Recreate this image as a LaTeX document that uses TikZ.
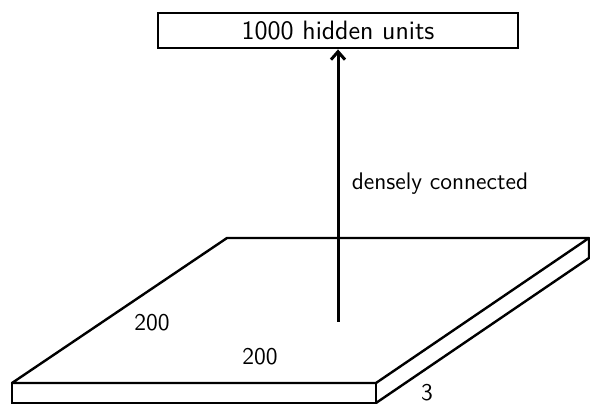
\documentclass[tikz,border=0pt]{standalone}
\usepackage{tikz}
\usetikzlibrary{positioning,arrows.meta}

\begin{document}
\begin{tikzpicture}[x=0.5pt,y=-0.5pt,line width=1.2pt,font=\sffamily\large,
  layerbox/.style={draw,line width=1.4pt,minimum width=180pt,minimum height=17.5pt,inner sep=0pt,font=\sffamily\fontsize{13.3}{15}\selectfont}]
  \useasboundingbox (0,0) rectangle (590,405);
  \clip (0,0) rectangle (590,405);
  %slab
  \coordinate (fl) at (12,383);
  \coordinate (fr) at (376,383);
  \coordinate (bl) at (227,238);
  \coordinate (br) at (589,238);
  \draw[line join=round] (fl) -- (fr) -- (br) -- (bl) -- cycle;
  \draw (fl) rectangle ([yshift=-10pt]fr);
  \draw ([yshift=-10pt]fr) -- ([yshift=-10pt]br) -- (br);
  \node[at=(fl),xshift=70pt,yshift=30pt] (wd) {200};
  \node[at=(fl),xshift=124pt,yshift=13pt] (ln) {200};
  \node[at=(fr),xshift=25.5pt,yshift=-5pt] (dp) {3};

  %top
  \node[layerbox] (hid) at (338,30.5) {1000 hidden units};
  \coordinate (src) at (338,322);
  \draw[-{Straight Barb[length=4pt,width=7pt]},line width=1.5pt] (src) -- (hid);
  \node[right=3pt of src,yshift=69pt] (lbl) {densely connected};
\end{tikzpicture}
\end{document}
